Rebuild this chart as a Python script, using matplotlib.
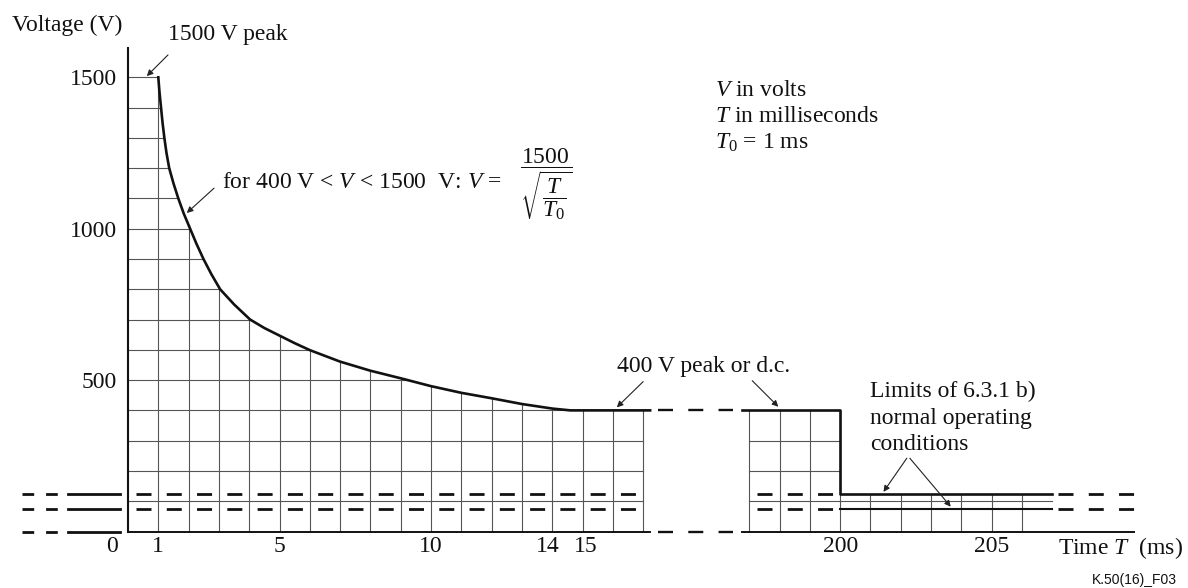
import numpy as np
import matplotlib
matplotlib.use("Agg")
import matplotlib.pyplot as plt
import matplotlib.transforms as mtransforms

plt.rcParams['font.family'] = ['Liberation Serif', 'DejaVu Serif']
plt.rcParams['mathtext.fontset'] = 'custom'
plt.rcParams['mathtext.rm'] = 'Liberation Serif'
plt.rcParams['mathtext.it'] = 'Liberation Serif:italic'
plt.rcParams['lines.scale_dashes'] = False

# curve (T in ms, V in volts)
t_curve = [1, 1.02, 1.04, 1.09, 1.14, 1.2, 1.27, 1.36, 1.5, 1.66, 1.84, 2.05,
           2.26, 2.49, 2.75, 3.04, 3.5, 4.03, 4.5, 5, 5.5, 6, 7, 8, 9,
           10, 11, 12, 13, 14, 14.6, 15, 17]
v_curve = [1500, 1475, 1450, 1400, 1350, 1300, 1250, 1200, 1150, 1100, 1050,
           1000, 950, 900, 850, 800, 750, 700, 672, 647, 622, 599, 561,
           531, 506, 480, 458, 440, 421, 406, 400, 400, 400]

# second part of the time axis
t_step = [200, 200, 207]
v_step = [400, 125, 125]

v_upper = 125          # limits of 6.3.1 b)
v_lower = 75
v_dc = 400

x_ticks = [0, 1, 5, 10, 14, 15, 200, 205]
y_ticks = [500, 1000, 1500]

GAP = 176.5            # broken axis: 197 ms is drawn right after 17 ms


def pos(t):
    t = np.asarray(t, dtype=float)
    return np.where(t > 100, t - GAP, t)


fig = plt.figure(figsize=(11.88, 5.88), dpi=100)
ax = fig.add_axes([128 / 1188, 56.5 / 588, 1007 / 1188, 483.8 / 588])
ax.set_xlim(0, 33.23)
ax.set_ylim(0, 1597.8)
for s in ['top', 'right', 'bottom']:
    ax.spines[s].set_visible(False)
ax.spines['left'].set_linewidth(1.5)
ax.spines['left'].set_color('#111')

ink = '#111111'
grid = '#555555'
dash = (0, (10.8, 11.0))

# grid under the curve
for level in range(100, 1600, 100):
    if level <= 400:
        t_end = 17
    else:
        t_end = np.interp(level, v_curve[::-1], t_curve[::-1])
    ax.plot([0, t_end], [level, level], color=grid, lw=0.8)
for t in range(1, 18):
    ax.plot([t, t], [0, np.interp(t, t_curve, v_curve)], color=grid, lw=0.8)

# grid in the second part
for t in [197, 198, 199, 200]:
    ax.plot(pos([t, t]), [0, v_dc if t < 200 else v_upper], color=grid, lw=0.8)
for t in range(201, 207):
    ax.plot(pos([t, t]), [0, v_upper], color=grid, lw=0.8)
for level in [100, 200, 300]:
    ax.plot(pos([197, 200]), [level, level], color=grid, lw=0.8)
ax.plot(pos([200, 207]), [100, 100], color=grid, lw=0.8)

# curve and 400 V level
ax.plot(pos(t_curve + [17.23]), v_curve + [v_dc], color=ink, lw=1.9,
        solid_joinstyle='round')
ax.plot([20.25] + list(pos(t_step)), [v_dc] + v_step, color=ink, lw=1.9)
ax.plot(pos([200, 207]), [v_lower, v_lower], color=ink, lw=1.5)

# baseline
ax.plot([0, 17.23], [0, 0], color=ink, lw=1.4, clip_on=False)
ax.plot([20.25, 33.2], [0, 0], color=ink, lw=1.4, clip_on=False)

# dashed continuations
for level in [0, v_dc]:
    ax.plot([17.48, 19.98], [level, level], color=ink, lw=1.7, ls=dash,
            clip_on=False)
for level in [v_upper, v_lower]:
    ax.plot([0.25, 17], [level, level], color=ink, lw=2.0, ls=dash)
    ax.plot(pos([197.27, 200]), [level, level], color=ink, lw=2.0, ls=dash)
    ax.plot([30.69, 33.2], [level, level], color=ink, lw=2.0, ls=dash, clip_on=False)
for level in [0, v_upper, v_lower]:
    ax.plot([-3.5, -2.24], [level, level], color=ink, lw=2.0,
            ls=(0, (8.4, 8.6)), clip_on=False)
    ax.plot([-1.99, -0.26], [level, level], color=ink, lw=2.0, clip_on=False)

# ticks
fs = 17
ax.set_yticks(y_ticks)
ax.set_yticklabels([str(v) for v in y_ticks])
ax.set_xticks(pos(x_ticks))
ax.set_xticklabels([str(t) for t in x_ticks])
ax.tick_params(axis='y', length=0, pad=8, labelsize=fs, colors=ink)
ax.tick_params(axis='x', length=0, pad=3, labelsize=fs, colors=ink)
shift = {'0': -16, '14': -4, '15': 3}
for lab in ax.get_xticklabels():
    dx = shift.get(lab.get_text(), 0)
    if dx:
        lab.set_transform(lab.get_transform() +
                          mtransforms.ScaledTranslation(dx / 100, 0, fig.dpi_scale_trans))

# texts
ax.text(-3.83, 1673, 'Voltage (V)', fontsize=fs, va='center', ha='left', color=ink)
ax.text(30.69, -54.5, 'Time $T$  (ms)', fontsize=fs, va='center', ha='left', color=ink)
ax.text(34.6, -160, 'K.50(16)_F03', fontsize=10, va='center', ha='right',
        family='Liberation Sans', color=ink)

arrow = dict(arrowstyle='-|>', color='#222', lw=0.8, mutation_scale=9,
             shrinkA=0, shrinkB=0)
ax.annotate('', xy=(0.62, 1504), xytext=(1.32, 1574), arrowprops=arrow,
            annotation_clip=False)
ax.text(1.32, 1640, '1500 V peak', fontsize=fs, va='center', ha='left', color=ink)

ax.annotate('', xy=(1.94, 1052), xytext=(2.84, 1134), arrowprops=arrow)
ax.text(3.09, 1151, 'for 400 V < $V$ < 1500  V: $V$ =', fontsize=fs,
        va='center', ha='left', color=ink)
ax.text(13.8, 1148, r'$\dfrac{1500}{\sqrt{\dfrac{T}{T_0}}}$', fontsize=fs,
        va='center', ha='center', color=ink)

ax.text(19.37, 1458, '$V$ in volts', fontsize=fs, va='center', ha='left', color=ink)
ax.text(19.37, 1370, '$T$ in milliseconds', fontsize=fs, va='center', ha='left', color=ink)
ax.text(19.37, 1283, '$T_0$ = 1 ms', fontsize=fs, va='center', ha='left', color=ink)

ax.text(16.13, 544, '400 V peak or d.c.', fontsize=fs, va='center', ha='left', color=ink)
ax.annotate('', xy=(16.13, 410), xytext=(17.0, 495), arrowprops=arrow)
ax.annotate('', xy=(21.46, 412), xytext=(20.6, 498), arrowprops=arrow)

ax.text(24.49, 462, 'Limits of 6.3.1 b)', fontsize=fs, va='center', ha='left', color=ink)
ax.text(24.49, 374, 'normal operating', fontsize=fs, va='center', ha='left', color=ink)
ax.text(24.49, 286, 'conditions', fontsize=fs, va='center', ha='left', color=ink)
ax.annotate('', xy=(24.93, 131), xytext=(25.7, 242), arrowprops=arrow)
ax.annotate('', xy=(27.15, 82), xytext=(25.8, 242), arrowprops=arrow)

fig.savefig('out.png', dpi=100)
